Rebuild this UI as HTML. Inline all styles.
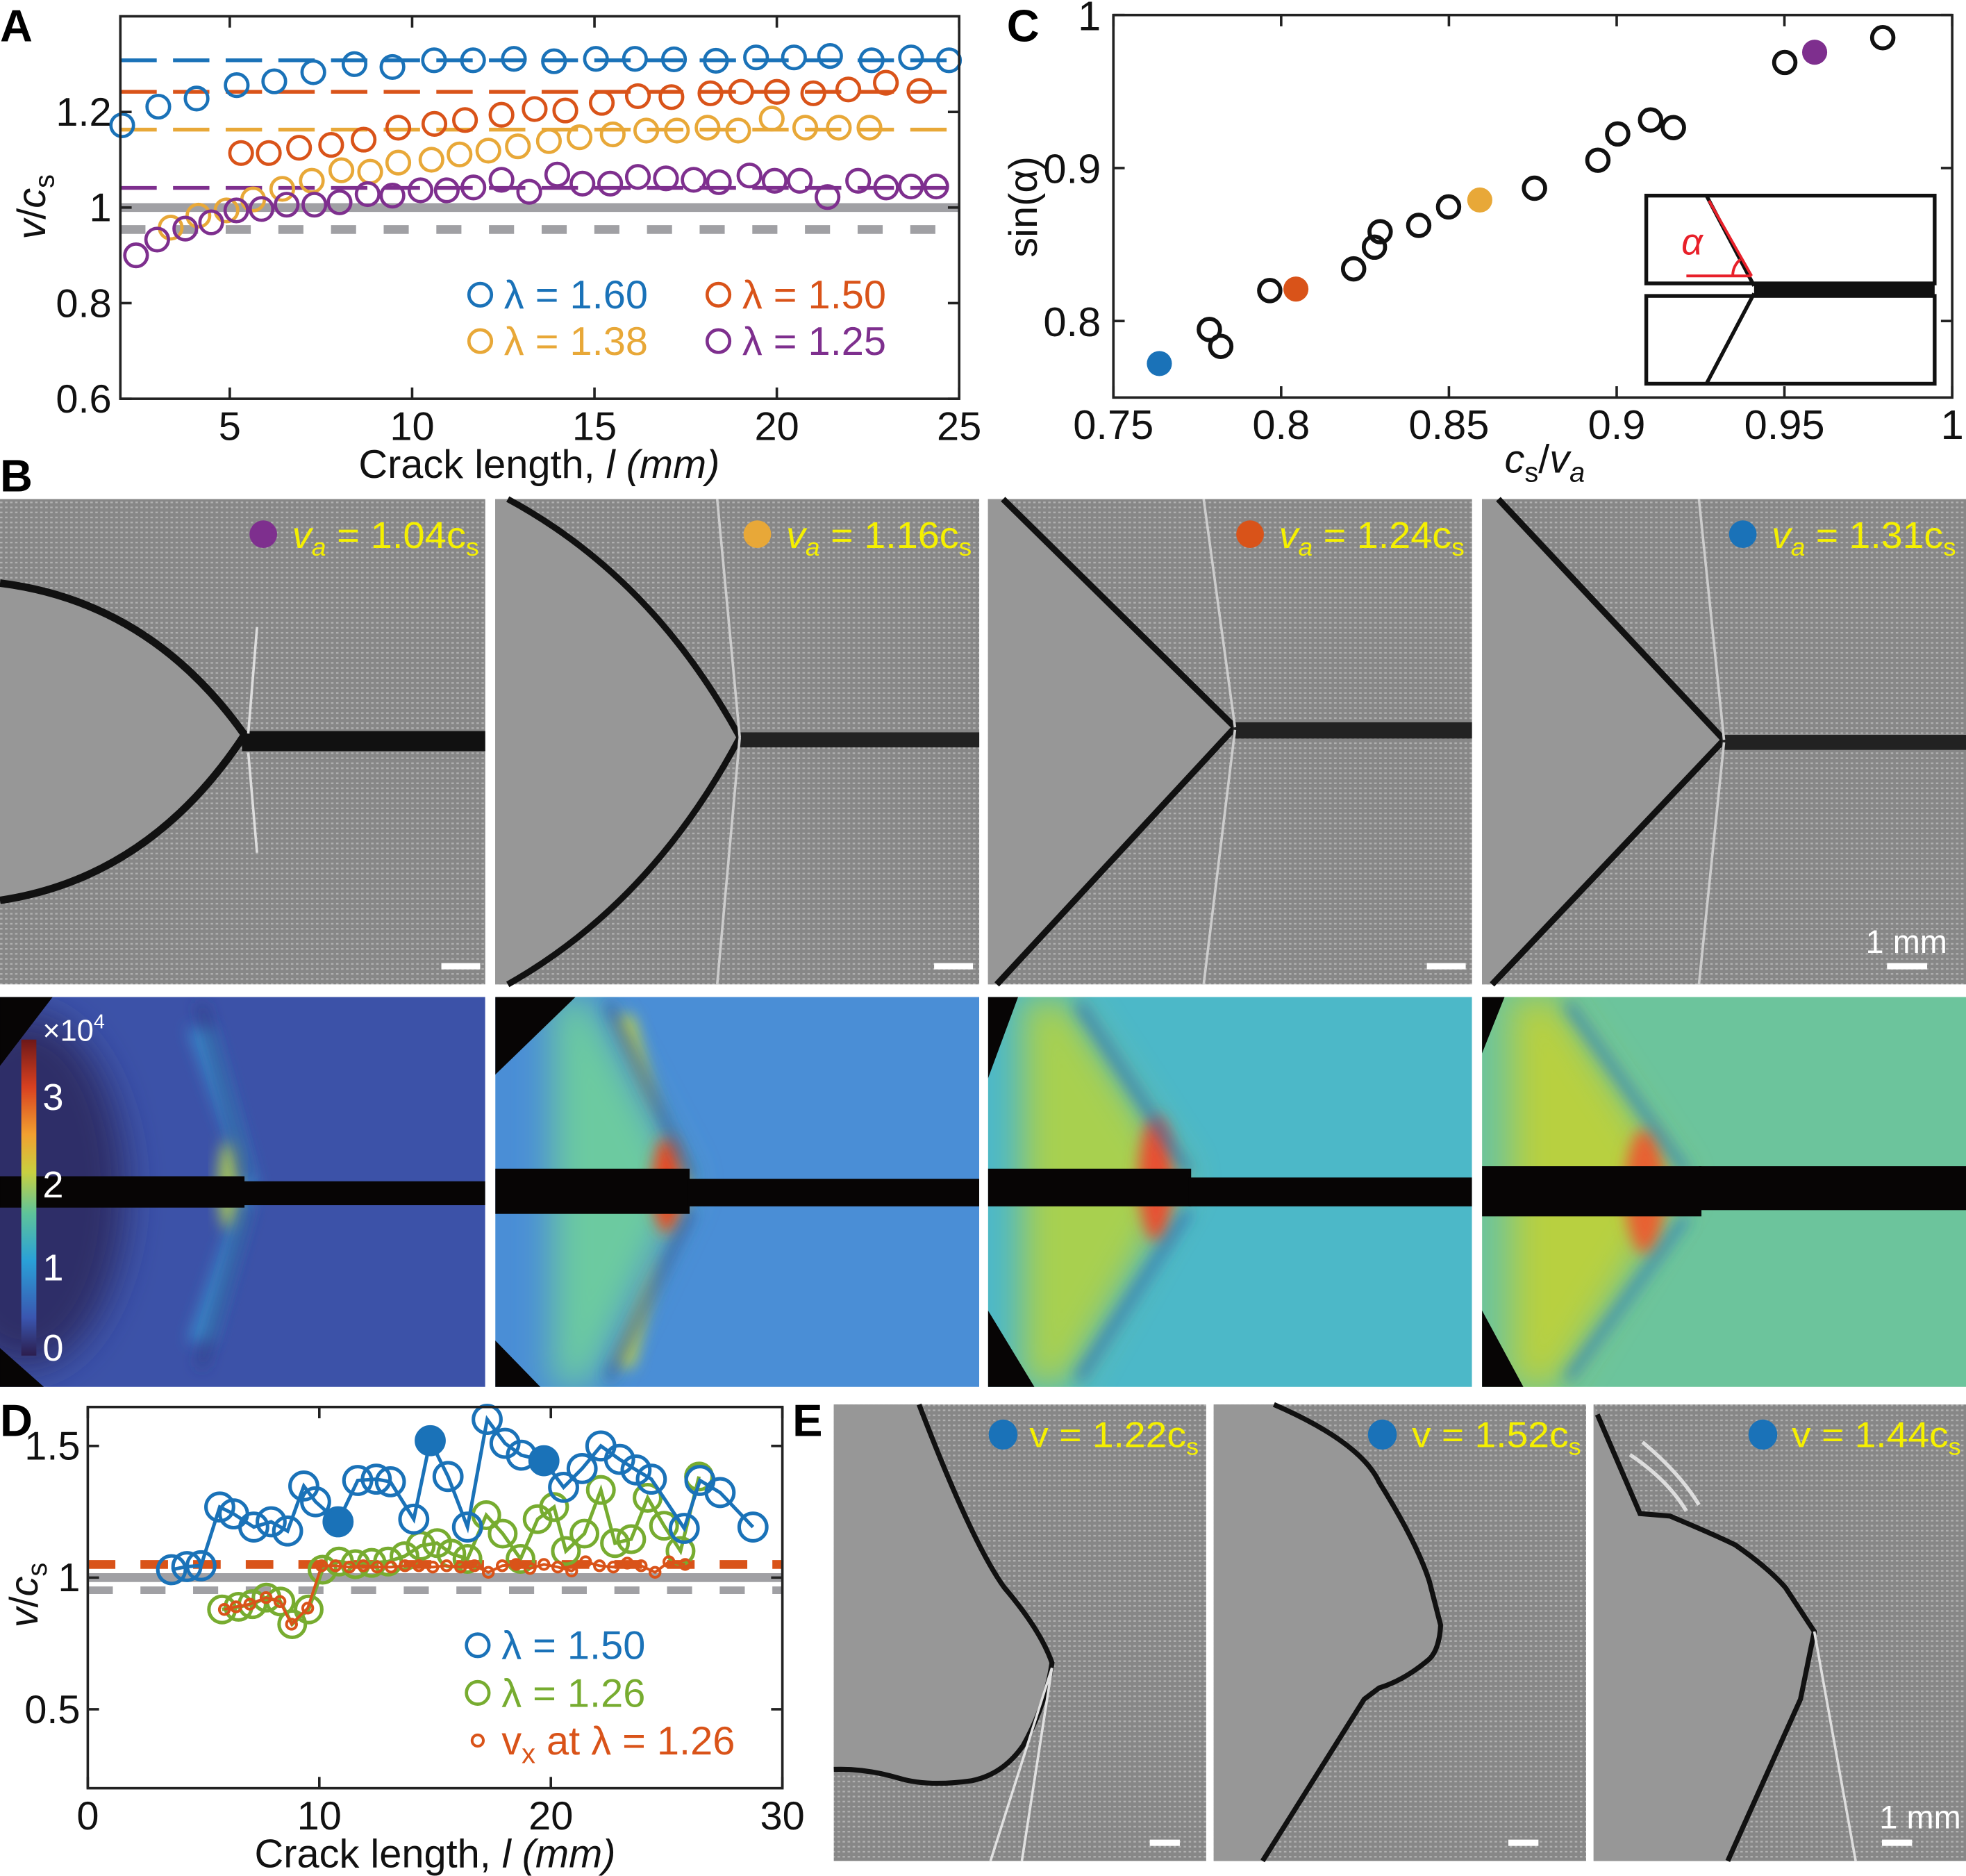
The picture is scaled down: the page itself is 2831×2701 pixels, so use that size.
<!DOCTYPE html>
<html><head><meta charset="utf-8"><style>
html,body{margin:0;padding:0;background:#fff;}
svg{display:block;font-family:"Liberation Sans",sans-serif;}
</style></head><body>
<svg id="fig" width="2831" height="2701" viewBox="0 0 1568 1496" xmlns="http://www.w3.org/2000/svg">
<defs>
<filter id="blur6" x="-50%" y="-50%" width="200%" height="200%"><feGaussianBlur stdDeviation="6"/></filter>
<filter id="blur14" x="-50%" y="-50%" width="200%" height="200%"><feGaussianBlur stdDeviation="14"/></filter>
<pattern id="tex" width="4" height="4" patternUnits="userSpaceOnUse"><rect width="4" height="4" fill="#878787"/><rect x="0" y="0" width="2" height="1.3" fill="#b0b0b0"/></pattern>
<linearGradient id="cbar" x1="0" y1="1" x2="0" y2="0">
<stop offset="0" stop-color="#2c1e4e"/><stop offset="0.12" stop-color="#3a56b0"/><stop offset="0.3" stop-color="#2aa0d8"/><stop offset="0.45" stop-color="#5ec39a"/><stop offset="0.58" stop-color="#c8d040"/><stop offset="0.7" stop-color="#f2a030"/><stop offset="0.85" stop-color="#d84020"/><stop offset="1" stop-color="#6e1818"/>
</linearGradient>
<clipPath id="cb1"><rect x="0" y="795" width="387" height="311"/></clipPath>
<clipPath id="cb2"><rect x="395" y="795" width="386" height="311"/></clipPath>
<clipPath id="cb3"><rect x="788" y="795" width="386" height="311"/></clipPath>
<clipPath id="cb4"><rect x="1182" y="795" width="386" height="311"/></clipPath>
</defs>

<text x="0" y="33" font-size="36" font-weight="bold">A</text>
<text x="0" y="392" font-size="36" font-weight="bold">B</text>
<text x="803" y="33" font-size="36" font-weight="bold">C</text>
<text x="0" y="1145" font-size="36" font-weight="bold">D</text>
<text x="632" y="1145" font-size="36" font-weight="bold">E</text>

<g id="panelA"></g>
<g id="panelC"></g>
<g id="panelD"></g>

<g>
 <g>
  <rect x="0" y="398" width="387" height="387" fill="url(#tex)"/>
  <path d="M0,465 Q120,480 195,586 Q120,700 0,718 Z" fill="#979797"/>
  <path d="M0,465 Q120,480 195,586 Q120,700 0,718" fill="none" stroke="#111" stroke-width="6"/>
  <rect x="193" y="583" width="194" height="16" fill="#111"/>
  <path d="M198,585 L205,500 M198,600 L205,680" stroke="#ddd" stroke-width="2" fill="none"/>
 </g>
 <g>
  <rect x="395" y="398" width="386" height="387" fill="url(#tex)"/>
  <path d="M395,398 L405,398 Q520,460 590,588 Q520,720 405,785 L395,785 Z" fill="#979797"/>
  <path d="M405,398 Q520,460 590,588 Q520,720 405,785" fill="none" stroke="#111" stroke-width="5"/>
  <rect x="588" y="584" width="193" height="12" fill="#222"/>
  <path d="M590,588 L572,398 M590,588 L572,785" stroke="#ccc" stroke-width="2" fill="none"/>
 </g>
 <g>
  <rect x="788" y="398" width="386" height="387" fill="url(#tex)"/>
  <path d="M788,398 L800,398 L985,580 L795,785 L788,785 Z" fill="#979797"/>
  <path d="M800,398 L985,580 L795,785" fill="none" stroke="#111" stroke-width="5"/>
  <rect x="983" y="576" width="191" height="13" fill="#222"/>
  <path d="M985,580 L960,398 M985,582 L960,785" stroke="#ccc" stroke-width="2" fill="none"/>
 </g>
 <g>
  <rect x="1182" y="398" width="386" height="387" fill="url(#tex)"/>
  <path d="M1182,398 L1195,398 L1375,590 L1190,785 L1182,785 Z" fill="#979797"/>
  <path d="M1195,398 L1375,590 L1190,785" fill="none" stroke="#111" stroke-width="5"/>
  <rect x="1373" y="586" width="195" height="12" fill="#222"/>
  <path d="M1375,590 L1355,398 M1375,592 L1355,785" stroke="#ccc" stroke-width="2" fill="none"/>
 </g>
 <circle cx="210" cy="426" r="11" fill="#7e2f8e"/>
 <text x="233" y="437" font-size="30" fill="#f5f000" textLength="149" lengthAdjust="spacingAndGlyphs"><tspan font-style="italic">v</tspan><tspan font-style="italic" font-size="20" dy="6">a</tspan><tspan dy="-6"> = 1.04c</tspan><tspan font-size="20" dy="6">s</tspan></text>
 <circle cx="604" cy="426" r="11" fill="#e8a838"/>
 <text x="627" y="437" font-size="30" fill="#f5f000" textLength="148" lengthAdjust="spacingAndGlyphs"><tspan font-style="italic">v</tspan><tspan font-style="italic" font-size="20" dy="6">a</tspan><tspan dy="-6"> = 1.16c</tspan><tspan font-size="20" dy="6">s</tspan></text>
 <circle cx="997" cy="426" r="11" fill="#d95319"/>
 <text x="1020" y="437" font-size="30" fill="#f5f000" textLength="148" lengthAdjust="spacingAndGlyphs"><tspan font-style="italic">v</tspan><tspan font-style="italic" font-size="20" dy="6">a</tspan><tspan dy="-6"> = 1.24c</tspan><tspan font-size="20" dy="6">s</tspan></text>
 <circle cx="1390" cy="426" r="11" fill="#1a72b8"/>
 <text x="1413" y="437" font-size="30" fill="#f5f000" textLength="147" lengthAdjust="spacingAndGlyphs"><tspan font-style="italic">v</tspan><tspan font-style="italic" font-size="20" dy="6">a</tspan><tspan dy="-6"> = 1.31c</tspan><tspan font-size="20" dy="6">s</tspan></text>
 <g fill="#fff">
  <rect x="352" y="768" width="31" height="5"/><rect x="745" y="768" width="31" height="5"/>
  <rect x="1138" y="768" width="31" height="5"/><rect x="1505" y="768" width="32" height="5"/>
  <rect x="343" y="1093" width="34" height="5"/><rect x="729" y="1093" width="43" height="5"/>
  <rect x="1115" y="1093" width="45" height="5"/><rect x="1508" y="1093" width="45" height="5"/>
 </g>
 <text x="1488" y="760" font-size="26" fill="#fff">1 mm</text>
</g>

<g>
 <g clip-path="url(#cb1)">
  <rect x="0" y="795" width="387" height="311" fill="#3c52a8"/>
  <ellipse cx="20" cy="950" rx="80" ry="140" fill="#2e2e68" filter="url(#blur14)"/>
  <path d="M150,820 L195,945 L150,1070 L170,1070 L205,945 L170,820 Z" fill="#3a8ccc" filter="url(#blur6)"/>
  <ellipse cx="182" cy="945" rx="8" ry="35" fill="#a8c858" filter="url(#blur6)"/>
  <path d="M160,800 L198,940 M160,1090 L198,960" stroke="#2a3a80" stroke-width="5" fill="none" filter="url(#blur6)"/>
  <rect x="0" y="938" width="195" height="25" fill="#070505"/>
  <rect x="193" y="942" width="194" height="19" fill="#070505"/>
  <path d="M0,795 L42,795 L0,850 Z M0,1075 L35,1106 L0,1106 Z" fill="#070505"/>
 </g>
 <g clip-path="url(#cb2)">
  <rect x="395" y="795" width="386" height="311" fill="#4a8ed6"/>
  <path d="M470,795 L548,945 L470,1106 L440,1106 L440,795 Z" fill="#6ccaa0" filter="url(#blur14)"/>
  <path d="M490,810 L548,945 L490,1090 L505,1090 L540,945 L505,810 Z" fill="#c8d848" filter="url(#blur6)"/>
  <ellipse cx="532" cy="945" rx="12" ry="38" fill="#e84820" filter="url(#blur6)"/>
  <path d="M485,800 L552,940 M485,1100 L552,965" stroke="#2c4c98" stroke-width="5" fill="none" filter="url(#blur6)"/>
  <rect x="395" y="932" width="155" height="36" fill="#070505"/>
  <rect x="548" y="940" width="233" height="22" fill="#070505"/>
  <path d="M395,795 L459,795 L395,857 Z M395,1069 L431,1106 L395,1106 Z" fill="#070505"/>
 </g>
 <g clip-path="url(#cb3)">
  <rect x="788" y="795" width="386" height="311" fill="#4cb8c8"/>
  <path d="M850,795 L945,940 L850,1106 L815,1106 L815,795 Z" fill="#a8d050" filter="url(#blur14)"/>
  <ellipse cx="922" cy="940" rx="14" ry="50" fill="#e85030" filter="url(#blur6)"/>
  <path d="M860,800 L948,935 M860,1100 L948,965" stroke="#2c68b8" stroke-width="6" fill="none" filter="url(#blur6)"/>
  <rect x="788" y="932" width="162" height="30" fill="#070505"/>
  <rect x="948" y="939" width="226" height="23" fill="#070505"/>
  <path d="M788,795 L812,795 L788,860 Z M788,1045 L825,1106 L788,1106 Z" fill="#070505"/>
 </g>
 <g clip-path="url(#cb4)">
  <rect x="1182" y="795" width="386" height="311" fill="#6cc49c"/>
  <path d="M1240,795 L1340,945 L1240,1106 L1205,1106 L1205,795 Z" fill="#b8d040" filter="url(#blur14)"/>
  <ellipse cx="1312" cy="950" rx="16" ry="50" fill="#e86030" filter="url(#blur6)"/>
  <path d="M1250,800 L1345,935 M1250,1100 L1345,970" stroke="#2c78c0" stroke-width="6" fill="none" filter="url(#blur6)"/>
  <rect x="1182" y="930" width="175" height="40" fill="#070505"/>
  <rect x="1355" y="930" width="213" height="35" fill="#070505"/>
  <path d="M1182,795 L1200,795 L1182,840 Z M1182,1045 L1215,1106 L1182,1106 Z" fill="#070505"/>
 </g>
 <rect x="17" y="829" width="12" height="252" fill="url(#cbar)"/>
 <g fill="#fff" font-size="30">
  <text x="34" y="830" font-size="24">×10<tspan font-size="16" dy="-10">4</tspan></text>
  <text x="34" y="885">3</text><text x="34" y="955">2</text><text x="34" y="1021">1</text><text x="34" y="1085">0</text>
 </g>
</g>

<g>
 <g>
  <rect x="665" y="1120" width="297" height="364" fill="url(#tex)"/>
  <path d="M665,1120 L733,1120 Q775,1230 801,1266 Q830,1300 839,1326 Q834,1360 816,1392 Q800,1415 775,1420 Q740,1425 717,1418 Q690,1410 665,1411 Z" fill="#979797"/>
  <path d="M733,1120 Q775,1230 801,1266 Q830,1300 839,1326 Q834,1360 816,1392 Q800,1415 775,1420 Q740,1425 717,1418 Q690,1410 665,1411" fill="none" stroke="#111" stroke-width="4"/>
  <path d="M839,1330 L790,1484 M839,1330 L815,1484" stroke="#e0e0e0" stroke-width="2" fill="none"/>
 </g>
 <g>
  <rect x="968" y="1120" width="297" height="364" fill="url(#tex)"/>
  <path d="M968,1120 L1016,1120 Q1085,1150 1100,1182 Q1130,1230 1140,1261 L1149,1296 Q1148,1315 1140,1323 Q1120,1340 1100,1346 L1088,1355 L1007,1484 L968,1484 Z" fill="#979797"/>
  <path d="M1016,1120 Q1085,1150 1100,1182 Q1130,1230 1140,1261 L1149,1296 Q1148,1315 1140,1323 Q1120,1340 1100,1346 L1088,1355 L1007,1484" fill="none" stroke="#111" stroke-width="4"/>
 </g>
 <g>
  <rect x="1271" y="1120" width="297" height="364" fill="url(#tex)"/>
  <path d="M1271,1120 L1274,1128 L1308,1207 L1332,1209 Q1370,1225 1384,1232 Q1410,1250 1424,1266 L1447,1301 L1436,1355 L1378,1484 L1271,1484 Z" fill="#979797"/>
  <path d="M1274,1128 L1308,1207 L1332,1209 Q1370,1225 1384,1232 Q1410,1250 1424,1266 L1447,1301 L1436,1355 L1378,1484" fill="none" stroke="#111" stroke-width="4"/>
  <path d="M1300,1160 Q1330,1180 1345,1205 M1310,1150 Q1340,1175 1355,1200" stroke="#ddd" stroke-width="3" fill="none"/>
  <path d="M1447,1301 L1480,1484" stroke="#ddd" stroke-width="2" fill="none"/>
 </g>
 <ellipse cx="800" cy="1144" rx="11.5" ry="12" fill="#1a72b8"/>
 <text x="821" y="1154" font-size="29" fill="#f5f000" textLength="135" lengthAdjust="spacingAndGlyphs">v = 1.22c<tspan font-size="19" dy="6">s</tspan></text>
 <ellipse cx="1102.5" cy="1144" rx="11.5" ry="12" fill="#1a72b8"/>
 <text x="1126" y="1154" font-size="29" fill="#f5f000" textLength="135" lengthAdjust="spacingAndGlyphs">v = 1.52c<tspan font-size="19" dy="6">s</tspan></text>
 <ellipse cx="1406" cy="1144" rx="11.5" ry="12" fill="#1a72b8"/>
 <text x="1429" y="1154" font-size="29" fill="#f5f000" textLength="135" lengthAdjust="spacingAndGlyphs">v = 1.44c<tspan font-size="19" dy="6">s</tspan></text>
 <g fill="#fff">
  <rect x="917" y="1467" width="24" height="5"/><rect x="1203" y="1467" width="24" height="5"/><rect x="1501" y="1467" width="24" height="5"/>
 </g>
 <text x="1499" y="1458" font-size="26" fill="#fff">1 mm</text>
</g>
</svg>

<script>
const aBlueX=[2.05,3.04,4.09,5.19,6.22,7.29,8.42,9.46,10.6,11.67,12.79,13.89,15.04,16.11,17.18,18.33,19.43,20.47,21.46,22.6,23.68,24.72];
const aBlueY=[1.172,1.211,1.228,1.256,1.264,1.283,1.3,1.294,1.308,1.308,1.311,1.306,1.311,1.311,1.31,1.307,1.314,1.314,1.317,1.308,1.314,1.308];
const aRedX=[5.31,6.07,6.9,7.78,8.67,9.62,10.61,11.45,12.45,13.36,14.2,15.2,16.19,17.11,18.18,19.02,20.0,21.0,21.96,22.99,23.91];
const aRedY=[1.114,1.114,1.125,1.131,1.142,1.167,1.175,1.183,1.194,1.206,1.203,1.219,1.233,1.231,1.239,1.242,1.242,1.239,1.247,1.261,1.244];
const aYelX=[3.38,4.14,4.91,5.64,6.44,7.25,8.06,8.85,9.62,10.53,11.3,12.09,12.9,13.75,14.59,15.5,16.42,17.26,18.1,18.94,19.86,20.78,21.7,22.54];
const aYelY=[0.958,0.983,0.994,1.017,1.039,1.056,1.078,1.075,1.094,1.1,1.111,1.119,1.128,1.139,1.147,1.153,1.161,1.161,1.167,1.161,1.186,1.167,1.167,1.167];
const aPurX=[2.43,3.01,3.78,4.49,5.18,5.87,6.56,7.32,8.01,8.78,9.46,10.23,10.95,11.68,12.45,13.21,13.98,14.67,15.43,16.19,16.96,17.72,18.41,19.25,19.94,20.63,21.39,22.23,23.0,23.68,24.37];
const aPurY=[0.9,0.933,0.956,0.969,0.994,0.997,1.006,1.006,1.011,1.028,1.025,1.036,1.036,1.042,1.058,1.033,1.069,1.05,1.05,1.064,1.061,1.058,1.053,1.067,1.056,1.056,1.022,1.056,1.042,1.044,1.044];
const aRefLevels=[1.308,1.242,1.163,1.041];
const aXTicks=[5,10,15,20,25];
const aYTicks=[0.6,0.8,1,1.2];
const aYTickLabels=["0.6","0.8","1","1.2"];
const aLegend=["λ = 1.60","λ = 1.50","λ = 1.38","λ = 1.25"];

const cOpenX=[0.7786,0.782,0.7966,0.8216,0.8278,0.8295,0.841,0.8499,0.8755,0.8944,0.9003,0.9101,0.9169,0.9501,0.9793];
const cOpenY=[0.7945,0.7834,0.8199,0.8341,0.8483,0.8584,0.8625,0.8746,0.8868,0.9051,0.9223,0.9314,0.9264,0.969,0.9852];
const cFilledX=[0.7637,0.8044,0.8592,0.959];
const cFilledY=[0.7722,0.8209,0.8791,0.9757];
const cXTicks=[0.75,0.8,0.85,0.9,0.95,1];
const cXTickLabels=["0.75","0.8","0.85","0.9","0.95","1"];
const cYTicks=[0.8,0.9,1];
const cYTickLabels=["0.8","0.9","1"];

const dBlueX=[3.62,4.28,4.89,5.7,6.3,7.17,7.92,8.63,9.33,9.84,10.81,11.66,12.46,13.07,14.08,14.79,15.56,16.4,17.25,18.02,18.73,19.7,20.55,21.35,22.16,22.97,23.68,24.34,25.76,26.44,27.31,28.73];
const dBlueY=[1.03,1.042,1.045,1.268,1.242,1.192,1.212,1.177,1.348,1.288,1.212,1.369,1.374,1.364,1.222,1.52,1.384,1.192,1.601,1.51,1.465,1.444,1.343,1.414,1.5,1.449,1.409,1.374,1.187,1.369,1.323,1.192];
const dBlueFilled=[10,15,21];
const dGreenX=[5.8,6.51,7.11,7.72,8.32,8.83,9.54,10.14,10.85,11.56,12.26,12.97,13.68,14.38,15.09,15.7,16.4,17.21,17.92,18.69,19.43,20.14,20.65,21.45,22.16,22.77,23.47,24.18,24.89,25.6,26.4];
const dGreenY=[0.879,0.889,0.899,0.924,0.909,0.823,0.879,1.03,1.061,1.051,1.056,1.061,1.081,1.121,1.131,1.091,1.071,1.237,1.167,1.071,1.222,1.268,1.101,1.167,1.333,1.131,1.146,1.303,1.197,1.101,1.384];
const dRedX=[5.9,6.4,7.0,7.7,8.3,8.8,9.5,10.1,10.7,11.3,11.9,12.5,13.1,13.7,14.3,14.9,15.5,16.1,16.7,17.3,17.9,18.5,19.1,19.7,20.3,20.9,21.5,22.1,22.7,23.3,23.9,24.5,25.1,25.8];
const dRedY=[0.879,0.889,0.899,0.924,0.909,0.823,0.884,1.045,1.045,1.04,1.045,1.04,1.04,1.045,1.045,1.04,1.045,1.04,1.045,1.02,1.045,1.05,1.035,1.05,1.04,1.025,1.06,1.045,1.04,1.055,1.045,1.02,1.06,1.05];
const dRefLevel=1.05;
const dXTicks=[0,10,20,30];
const dYTicks=[0.5,1,1.5];
const dYTickLabels=["0.5","1","1.5"];
const dLegend=["λ = 1.50","λ = 1.26"];

const NS="http://www.w3.org/2000/svg";
const COL={blue:"#1a72b8",red:"#d95319",yel:"#e8a838",pur:"#7e2f8e",green:"#77ac30",gray:"#a0a0a4"};
function mk(parent,tag,attrs){const e=document.createElementNS(NS,tag);for(const k in attrs)e.setAttribute(k,attrs[k]);parent.appendChild(e);return e;}
function txt(parent,x,y,s,size,anchor,fill){const t=mk(parent,"text",{x:x,y:y,"font-size":size,"text-anchor":anchor||"start",fill:fill||"#111"});t.textContent=s;return t;}

(function(){
 const g=document.getElementById("panelA");
 const L=96,R=765,T=13,B=318, x0=2,x1=25,y0=0.6,y1=1.4;
 const sx=v=>L+(v-x0)/(x1-x0)*(R-L), sy=v=>B-(v-y0)/(y1-y0)*(B-T);
 const refCols=[COL.blue,COL.red,COL.yel,COL.pur];
 aRefLevels.forEach((lv,i)=>{const l=mk(g,"line",{x1:L,x2:R,y1:sy(lv),y2:sy(lv),stroke:refCols[i],"stroke-width":3,"stroke-dasharray":"29 13"});
  
  });
 const gs=mk(g,"line",{x1:L,x2:R,y1:sy(1),y2:sy(1),stroke:COL.gray,"stroke-width":7});
 
 
 const gd=mk(g,"line",{x1:L,x2:R,y1:sy(0.954),y2:sy(0.954),stroke:COL.gray,"stroke-width":7,"stroke-dasharray":"20 22"});
 
 
 const series=[[aBlueX,aBlueY,COL.blue],[aRedX,aRedY,COL.red],[aYelX,aYelY,COL.yel],[aPurX,aPurY,COL.pur]];
 series.forEach(([xs,ys,c])=>{xs.forEach((x,i)=>{const m=mk(g,"circle",{cx:sx(x),cy:sy(ys[i]),r:9,fill:"none",stroke:c,"stroke-width":2.6});
  
  });});
 const box=mk(g,"rect",{x:L,y:T,width:R-L,height:B-T,fill:"none",stroke:"#222","stroke-width":2});
 
 
 aXTicks.forEach(v=>{mk(g,"line",{x1:sx(v),x2:sx(v),y1:B,y2:B-9,stroke:"#222","stroke-width":2});mk(g,"line",{x1:sx(v),x2:sx(v),y1:T,y2:T+9,stroke:"#222","stroke-width":2});
  const t=txt(g,sx(v),351,String(v),32,"middle");
  
  });
 aYTicks.forEach((v,i)=>{mk(g,"line",{x1:L,x2:L+9,y1:sy(v),y2:sy(v),stroke:"#222","stroke-width":2});mk(g,"line",{x1:R,x2:R-9,y1:sy(v),y2:sy(v),stroke:"#222","stroke-width":2});
  const t=txt(g,89,sy(v)+11,aYTickLabels[i],32,"end");
  
  });
 const xl=txt(g,430,381,"",32,"middle");xl.innerHTML='Crack length, <tspan font-style="italic">l (mm)</tspan>';
 
 
 const yl=mk(g,"text",{transform:"translate(36,165) rotate(-90)","font-size":32,"text-anchor":"middle",fill:"#111"});
 yl.innerHTML='<tspan font-style="italic">v</tspan>/<tspan font-style="italic">c</tspan><tspan font-size="22" dy="7">s</tspan>';
 
 
 const lp=[[383,246,COL.blue],[573,246,COL.red],[383,283,COL.yel],[573,283,COL.pur]];
 lp.forEach(([x,y,c],i)=>{const m=mk(g,"circle",{cx:x,cy:y-11,r:9,fill:"none",stroke:c,"stroke-width":2.6});
  
  
  const t=txt(g,x+19,y,aLegend[i],32,"start",c);
  
  });
})();

(function(){
 const g=document.getElementById("panelC");
 const L=888,R=1557,T=12,B=317,x0=0.75,x1=1,y0=0.75,y1=1;
 const sx=v=>L+(v-x0)/(x1-x0)*(R-L), sy=v=>B-(v-y0)/(y1-y0)*(B-T);
 cOpenX.forEach((x,i)=>{const m=mk(g,"circle",{cx:sx(x),cy:sy(cOpenY[i]),r:8.5,fill:"none",stroke:"#111","stroke-width":3.2});
  
  });
 const fc=[COL.blue,COL.red,COL.yel,COL.pur];
 cFilledX.forEach((x,i)=>{const m=mk(g,"circle",{cx:sx(x),cy:sy(cFilledY[i]),r:10,fill:fc[i]});
  
  });
 const box=mk(g,"rect",{x:L,y:T,width:R-L,height:B-T,fill:"none",stroke:"#222","stroke-width":2});
 
 
 cXTicks.forEach((v,i)=>{mk(g,"line",{x1:sx(v),x2:sx(v),y1:B,y2:B-9,stroke:"#222","stroke-width":2});mk(g,"line",{x1:sx(v),x2:sx(v),y1:T,y2:T+9,stroke:"#222","stroke-width":2});
  const t=txt(g,sx(v),350,cXTickLabels[i],33,"middle");
  
  });
 cYTicks.forEach((v,i)=>{mk(g,"line",{x1:L,x2:L+9,y1:sy(v),y2:sy(v),stroke:"#222","stroke-width":2});mk(g,"line",{x1:R,x2:R-9,y1:sy(v),y2:sy(v),stroke:"#222","stroke-width":2});
  const t=txt(g,878,sy(v)+12,cYTickLabels[i],33,"end");
  
  });
 const xl=mk(g,"text",{x:1232,y:377,"font-size":32,"text-anchor":"middle",fill:"#111"});
 xl.innerHTML='<tspan font-style="italic">c</tspan><tspan font-size="22" dy="7">s</tspan><tspan dy="-7">/</tspan><tspan font-style="italic">v</tspan><tspan font-style="italic" font-size="22" dy="7">a</tspan>';
 
 
 const yl=mk(g,"text",{transform:"translate(827,165) rotate(-90)","font-size":32,"text-anchor":"middle",fill:"#111"});
 yl.textContent="sin(α)";
 
 
 const ins=mk(g,"g",{});
 
 
 mk(ins,"rect",{x:1313,y:156,width:230,height:70,fill:"#fff",stroke:"#111","stroke-width":3});
 mk(ins,"rect",{x:1313,y:236,width:230,height:70,fill:"#fff",stroke:"#111","stroke-width":3});
 mk(ins,"rect",{x:1399,y:226,width:144,height:10,fill:"#111"});
 mk(ins,"path",{d:"M1361,156 L1399,228 M1399,234 L1361,306",stroke:"#111","stroke-width":3,fill:"none"});
 mk(ins,"path",{d:"M1363,160 L1397,220 M1345,220 L1397,220 M1382,220 A16 16 0 0 1 1388,207",stroke:"#e8202a","stroke-width":2.2,fill:"none"});
 const al=txt(ins,1341,203,"α",30,"start","#e8202a");al.setAttribute("font-style","italic");
})();

(function(){
 const g=document.getElementById("panelD");
 const L=70,R=624,T=1122,B=1426,x0=0,x1=30,y0=0.2,y1=1.648;
 const sx=v=>L+(v-x0)/(x1-x0)*(R-L), sy=v=>B-(v-y0)/(y1-y0)*(B-T);
 const rl=mk(g,"line",{x1:L,x2:R,y1:sy(dRefLevel),y2:sy(dRefLevel),stroke:COL.red,"stroke-width":7,"stroke-dasharray":"22 20"});
 
 
 const gs=mk(g,"line",{x1:L,x2:R,y1:sy(1),y2:sy(1),stroke:COL.gray,"stroke-width":7});
 
 
 const gd=mk(g,"line",{x1:L,x2:R,y1:sy(0.952),y2:sy(0.952),stroke:COL.gray,"stroke-width":6,"stroke-dasharray":"20 22"});
 
 
 function series(xs,ys,c,r,sw,name,filledIdx){
  const pts=xs.map((x,i)=>sx(x)+","+sy(ys[i])).join(" ");
  const pl=mk(g,"polyline",{points:pts,fill:"none",stroke:c,"stroke-width":sw});
  
  
  xs.forEach((x,i)=>{const f=filledIdx&&filledIdx.indexOf(i)>=0;
   const m=mk(g,"circle",{cx:sx(x),cy:sy(ys[i]),r:r,fill:f?c:"#fff","fill-opacity":f?1:0,stroke:c,"stroke-width":sw});
   
   });
 }
 series(dGreenX,dGreenY,COL.green,10.5,2.8,"d-green",null);
 series(dRedX,dRedY,COL.red,4,2.2,"d-red",null);
 series(dBlueX,dBlueY,COL.blue,11,2.8,"d-blue",dBlueFilled);
 const box=mk(g,"rect",{x:L,y:T,width:R-L,height:B-T,fill:"none",stroke:"#222","stroke-width":2});
 
 
 dXTicks.forEach(v=>{mk(g,"line",{x1:sx(v),x2:sx(v),y1:B,y2:B-9,stroke:"#222","stroke-width":2});mk(g,"line",{x1:sx(v),x2:sx(v),y1:T,y2:T+9,stroke:"#222","stroke-width":2});
  const t=txt(g,sx(v),1459,String(v),32,"middle");
  
  });
 dYTicks.forEach((v,i)=>{mk(g,"line",{x1:L,x2:L+9,y1:sy(v),y2:sy(v),stroke:"#222","stroke-width":2});mk(g,"line",{x1:R,x2:R-9,y1:sy(v),y2:sy(v),stroke:"#222","stroke-width":2});
  const t=txt(g,64,sy(v)+11,dYTickLabels[i],32,"end");
  
  });
 const xl=txt(g,347,1489,"",32,"middle");xl.innerHTML='Crack length, <tspan font-style="italic">l (mm)</tspan>';
 
 
 const yl=mk(g,"text",{transform:"translate(30,1272) rotate(-90)","font-size":32,"text-anchor":"middle",fill:"#111"});
 yl.innerHTML='<tspan font-style="italic">v</tspan>/<tspan font-style="italic">c</tspan><tspan font-size="22" dy="7">s</tspan>';
 
 
 const lc=[COL.blue,COL.green];
 [1323,1361].forEach((y,i)=>{const m=mk(g,"circle",{cx:381,cy:y-11,r:9,fill:"none",stroke:lc[i],"stroke-width":2.6});
  
  
  const t=txt(g,400,y,dLegend[i],32,"start",lc[i]);
  
  });
 const m3=mk(g,"circle",{cx:381,cy:1388,r:4.5,fill:"none",stroke:COL.red,"stroke-width":2.2});
 
 
 const t3=txt(g,400,1399,"",32,"start",COL.red);t3.innerHTML='v<tspan font-size="22" dy="7">x</tspan><tspan dy="-7"> at λ = 1.26</tspan>';
 
 
})();
</script>
</body></html>
